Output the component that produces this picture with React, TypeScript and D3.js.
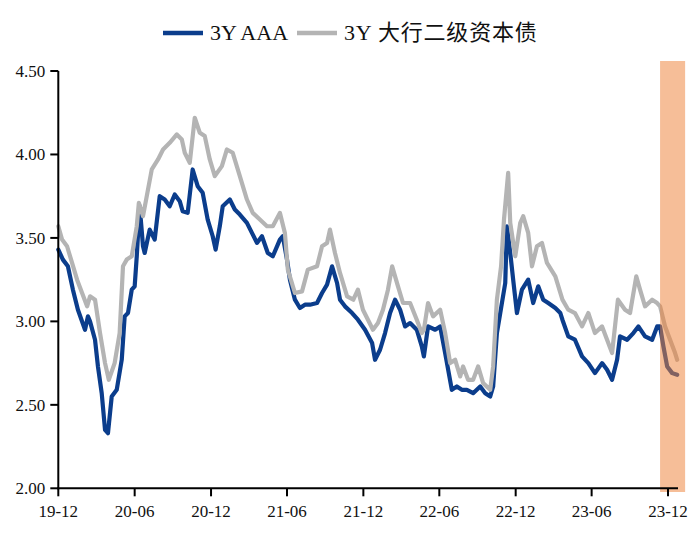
import React from "react";
import * as d3 from "d3";

const aaaDates = [
  "2019-12-01","2019-12-12","2019-12-24","2020-01-05","2020-01-17","2020-02-03","2020-02-10","2020-02-15","2020-02-27","2020-03-05",
  "2020-03-14","2020-03-22","2020-03-29","2020-04-07","2020-04-19","2020-05-01","2020-05-08","2020-05-16","2020-05-25","2020-06-01",
  "2020-06-06","2020-06-13","2020-06-21","2020-06-25","2020-07-07","2020-07-19","2020-07-31","2020-08-12","2020-08-24","2020-09-05",
  "2020-09-17","2020-09-24","2020-10-06","2020-10-18","2020-10-30","2020-11-11","2020-11-23","2020-12-05","2020-12-12","2020-12-22",
  "2020-12-29","2021-01-15","2021-01-27","2021-02-08","2021-02-25","2021-03-09","2021-03-21","2021-04-02","2021-04-16","2021-04-28",
  "2021-05-15","2021-05-22","2021-06-01","2021-06-08","2021-06-20","2021-07-02","2021-07-14","2021-07-26","2021-08-12","2021-08-24",
  "2021-09-05","2021-09-17","2021-09-29","2021-10-06","2021-10-18","2021-11-04","2021-11-18","2021-12-05","2021-12-22","2021-12-29",
  "2022-01-10","2022-01-22","2022-02-03","2022-02-15","2022-02-27","2022-03-11","2022-03-23","2022-04-08","2022-04-20","2022-04-25",
  "2022-05-05","2022-05-22","2022-06-03","2022-06-15","2022-07-01","2022-07-13","2022-07-25","2022-08-06","2022-08-21","2022-09-07",
  "2022-09-19","2022-10-01","2022-10-08","2022-10-17","2022-10-25","2022-11-06","2022-11-10","2022-11-18","2022-11-25","2022-12-04",
  "2022-12-16","2022-12-31","2023-01-12","2023-01-24","2023-02-05","2023-02-17","2023-03-06","2023-03-18","2023-03-23","2023-04-06",
  "2023-04-22","2023-05-09","2023-05-24","2023-06-09","2023-06-26","2023-07-08","2023-07-20","2023-08-01","2023-08-08","2023-08-25",
  "2023-09-09","2023-09-21","2023-10-07","2023-10-24","2023-11-05","2023-11-12","2023-11-20","2023-11-29","2023-12-11","2023-12-23"
];
const aaaValues = [
  3.43,3.37,3.33,3.19,3.07,2.95,3.03,3.00,2.89,2.73,
  2.57,2.35,2.33,2.55,2.59,2.77,3.03,3.05,3.19,3.21,
  3.39,3.69,3.45,3.41,3.55,3.49,3.75,3.73,3.69,3.76,
  3.72,3.66,3.65,3.91,3.81,3.77,3.61,3.51,3.43,3.57,
  3.69,3.73,3.67,3.64,3.59,3.53,3.47,3.51,3.41,3.39,
  3.49,3.51,3.37,3.25,3.13,3.08,3.10,3.10,3.11,3.17,
  3.22,3.33,3.23,3.13,3.09,3.05,3.01,2.95,2.87,2.77,
  2.83,2.93,3.05,3.13,3.07,2.97,2.99,2.95,2.85,2.79,
  2.97,2.95,2.97,2.81,2.59,2.61,2.59,2.59,2.57,2.61,
  2.57,2.55,2.61,2.93,3.05,3.23,3.57,3.41,3.25,3.05,
  3.19,3.25,3.11,3.21,3.13,3.11,3.08,3.05,3.01,2.91,
  2.89,2.79,2.75,2.69,2.75,2.71,2.65,2.77,2.91,2.89,
  2.93,2.97,2.91,2.89,2.97,2.97,2.85,2.73,2.69,2.68
];

const subDates = [
  "2019-12-01","2019-12-10","2019-12-22","2020-01-03","2020-01-15","2020-01-27","2020-02-08","2020-02-15","2020-02-27","2020-03-10",
  "2020-03-22","2020-03-31","2020-04-14","2020-04-26","2020-05-04","2020-05-13","2020-05-25","2020-06-06","2020-06-11","2020-06-21",
  "2020-06-30","2020-07-12","2020-07-27","2020-08-08","2020-08-24","2020-09-10","2020-09-22","2020-09-29","2020-10-11","2020-10-23",
  "2020-11-04","2020-11-16","2020-11-28","2020-12-10","2020-12-27","2021-01-08","2021-01-22","2021-02-08","2021-02-25","2021-03-11",
  "2021-03-28","2021-04-14","2021-04-28","2021-05-15","2021-05-27","2021-06-03","2021-06-20","2021-07-07","2021-07-21","2021-08-12",
  "2021-08-24","2021-09-05","2021-09-12","2021-09-24","2021-10-06","2021-10-23","2021-11-07","2021-11-18","2021-11-30","2021-12-12",
  "2021-12-24","2022-01-05","2022-01-17","2022-01-29","2022-02-08","2022-02-22","2022-03-06","2022-03-23","2022-04-08","2022-04-20",
  "2022-04-25","2022-05-05","2022-05-17","2022-06-03","2022-06-15","2022-06-27","2022-07-09","2022-07-21","2022-07-28","2022-08-09",
  "2022-08-21","2022-09-02","2022-09-14","2022-10-01","2022-10-08","2022-10-17","2022-10-27","2022-11-03","2022-11-13","2022-11-18",
  "2022-11-30","2022-12-12","2022-12-19","2022-12-31","2023-01-09","2023-01-21","2023-02-02","2023-02-14","2023-03-06","2023-03-23",
  "2023-04-06","2023-04-22","2023-05-09","2023-05-24","2023-06-09","2023-06-26","2023-07-08","2023-07-20","2023-08-03","2023-08-20",
  "2023-09-01","2023-09-16","2023-09-25","2023-10-07","2023-10-24","2023-11-05","2023-11-12","2023-11-24","2023-12-06","2023-12-18",
  "2023-12-23"
];
const subValues = [
  3.57,3.49,3.45,3.35,3.25,3.17,3.09,3.15,3.13,2.93,
  2.75,2.65,2.75,2.93,3.33,3.37,3.39,3.57,3.71,3.63,
  3.75,3.91,3.97,4.03,4.07,4.12,4.09,4.01,3.95,4.22,
  4.13,4.11,3.97,3.87,3.93,4.03,4.01,3.87,3.73,3.65,
  3.61,3.57,3.57,3.65,3.53,3.31,3.17,3.18,3.31,3.33,
  3.45,3.47,3.55,3.41,3.29,3.15,3.13,3.19,3.07,3.01,
  2.95,2.99,3.07,3.19,3.33,3.21,3.11,3.11,3.01,2.93,
  2.95,3.11,3.03,3.07,2.93,2.75,2.77,2.67,2.73,2.65,
  2.65,2.73,2.63,2.59,2.73,3.13,3.33,3.61,3.89,3.59,
  3.39,3.59,3.63,3.53,3.33,3.45,3.47,3.35,3.27,3.13,
  3.07,3.05,2.97,3.05,2.93,2.97,2.89,2.81,3.13,3.07,
  3.05,3.27,3.19,3.09,3.13,3.11,3.09,2.97,2.89,2.81,
  2.77
];

const seriesNames = ["3Y AAA", "3Y 大行二级资本债"];
const seriesColors = ["#0B3D8C", "#B4B4B4"];
const yTicks = [2.0, 2.5, 3.0, 3.5, 4.0, 4.5];
const xTickDates = ["2019-12-01","2020-06-01","2020-12-01","2021-06-01","2021-12-01","2022-06-01","2022-12-01","2023-06-01","2023-12-01"];
const shadeRange = ["2023-11-12", "2024-01-11"];

const parse = d3.timeParse("%Y-%m-%d");
const fmt = d3.timeFormat("%y-%m");

export default function App() {
  const W = 700, H = 539;
  const x = d3.scaleTime()
    .domain([parse("2019-12-01")!, parse("2023-12-01")!])
    .range([58.3, 668]);
  const y = d3.scaleLinear().domain([2, 4.5]).range([488.3, 71]);

  const toPts = (ds: string[], vs: number[]) => ds.map((d, i) => [x(parse(d)!), y(vs[i])] as [number, number]);
  const line = d3.line<[number, number]>().curve(d3.curveLinear);
  const aaaPath = line(toPts(aaaDates, aaaValues)) || "";
  const subPath = line(toPts(subDates, subValues)) || "";

  const font = "'Liberation Serif', 'Times New Roman', 'Noto Sans CJK SC', serif";
  const axisX0 = 58.3;
  const axisY0 = 488.3;
  const shadeX0 = x(parse(shadeRange[0])!);
  const shadeX1 = x(parse(shadeRange[1])!);

  return (
    <svg width={W} height={H} style={{ position: "absolute", left: 0, top: 0, background: "#fff" }} fontFamily={font}>
      {/* legend */}
      <g>
        <line x1={163} x2={203} y1={33} y2={33} stroke={seriesColors[0]} strokeWidth={4.5} />
        <text x={210} y={40} fontSize={22} fill="#111">{seriesNames[0]}</text>
        <line x1={297} x2={337} y1={33} y2={33} stroke={seriesColors[1]} strokeWidth={4.5} />
        <text x={344} y={40} fontSize={22} fill="#111" letterSpacing={0.8} fontFamily="'Liberation Serif', 'Noto Sans CJK SC', serif">{seriesNames[1]}</text>
      </g>

      {/* lines */}
      <path d={aaaPath} fill="none" stroke={seriesColors[0]} strokeWidth={4.2} strokeLinejoin="round" strokeLinecap="round" />
      <path d={subPath} fill="none" stroke={seriesColors[1]} strokeWidth={4.2} strokeLinejoin="round" strokeLinecap="round" />

      {/* shaded band */}
      <rect x={shadeX0} y={61} width={shadeX1 - shadeX0} height={492 - 61} fill="#ED8339" opacity={0.52} />

      {/* y axis */}
      <line x1={axisX0} x2={axisX0} y1={y(4.5)} y2={axisY0 + 1} stroke="#000" strokeWidth={2} />
      {yTicks.map((t) => (
        <g key={t}>
          <line x1={axisX0 - 8} x2={axisX0} y1={y(t)} y2={y(t)} stroke="#000" strokeWidth={2} />
          <text x={axisX0 - 13} y={y(t) + 6} fontSize={17} textAnchor="end" fill="#111">{t.toFixed(2)}</text>
        </g>
      ))}

      {/* x axis */}
      <line x1={axisX0 - 1} x2={678} y1={axisY0} y2={axisY0} stroke="#000" strokeWidth={2} />
      {xTickDates.map((d) => {
        const xx = x(parse(d)!);
        return (
          <g key={d}>
            <line x1={xx} x2={xx} y1={axisY0} y2={axisY0 + 8} stroke="#000" strokeWidth={2} />
            <text x={xx} y={517} fontSize={17} textAnchor="middle" fill="#111">{fmt(parse(d)!)}</text>
          </g>
        );
      })}
    </svg>
  );
}
